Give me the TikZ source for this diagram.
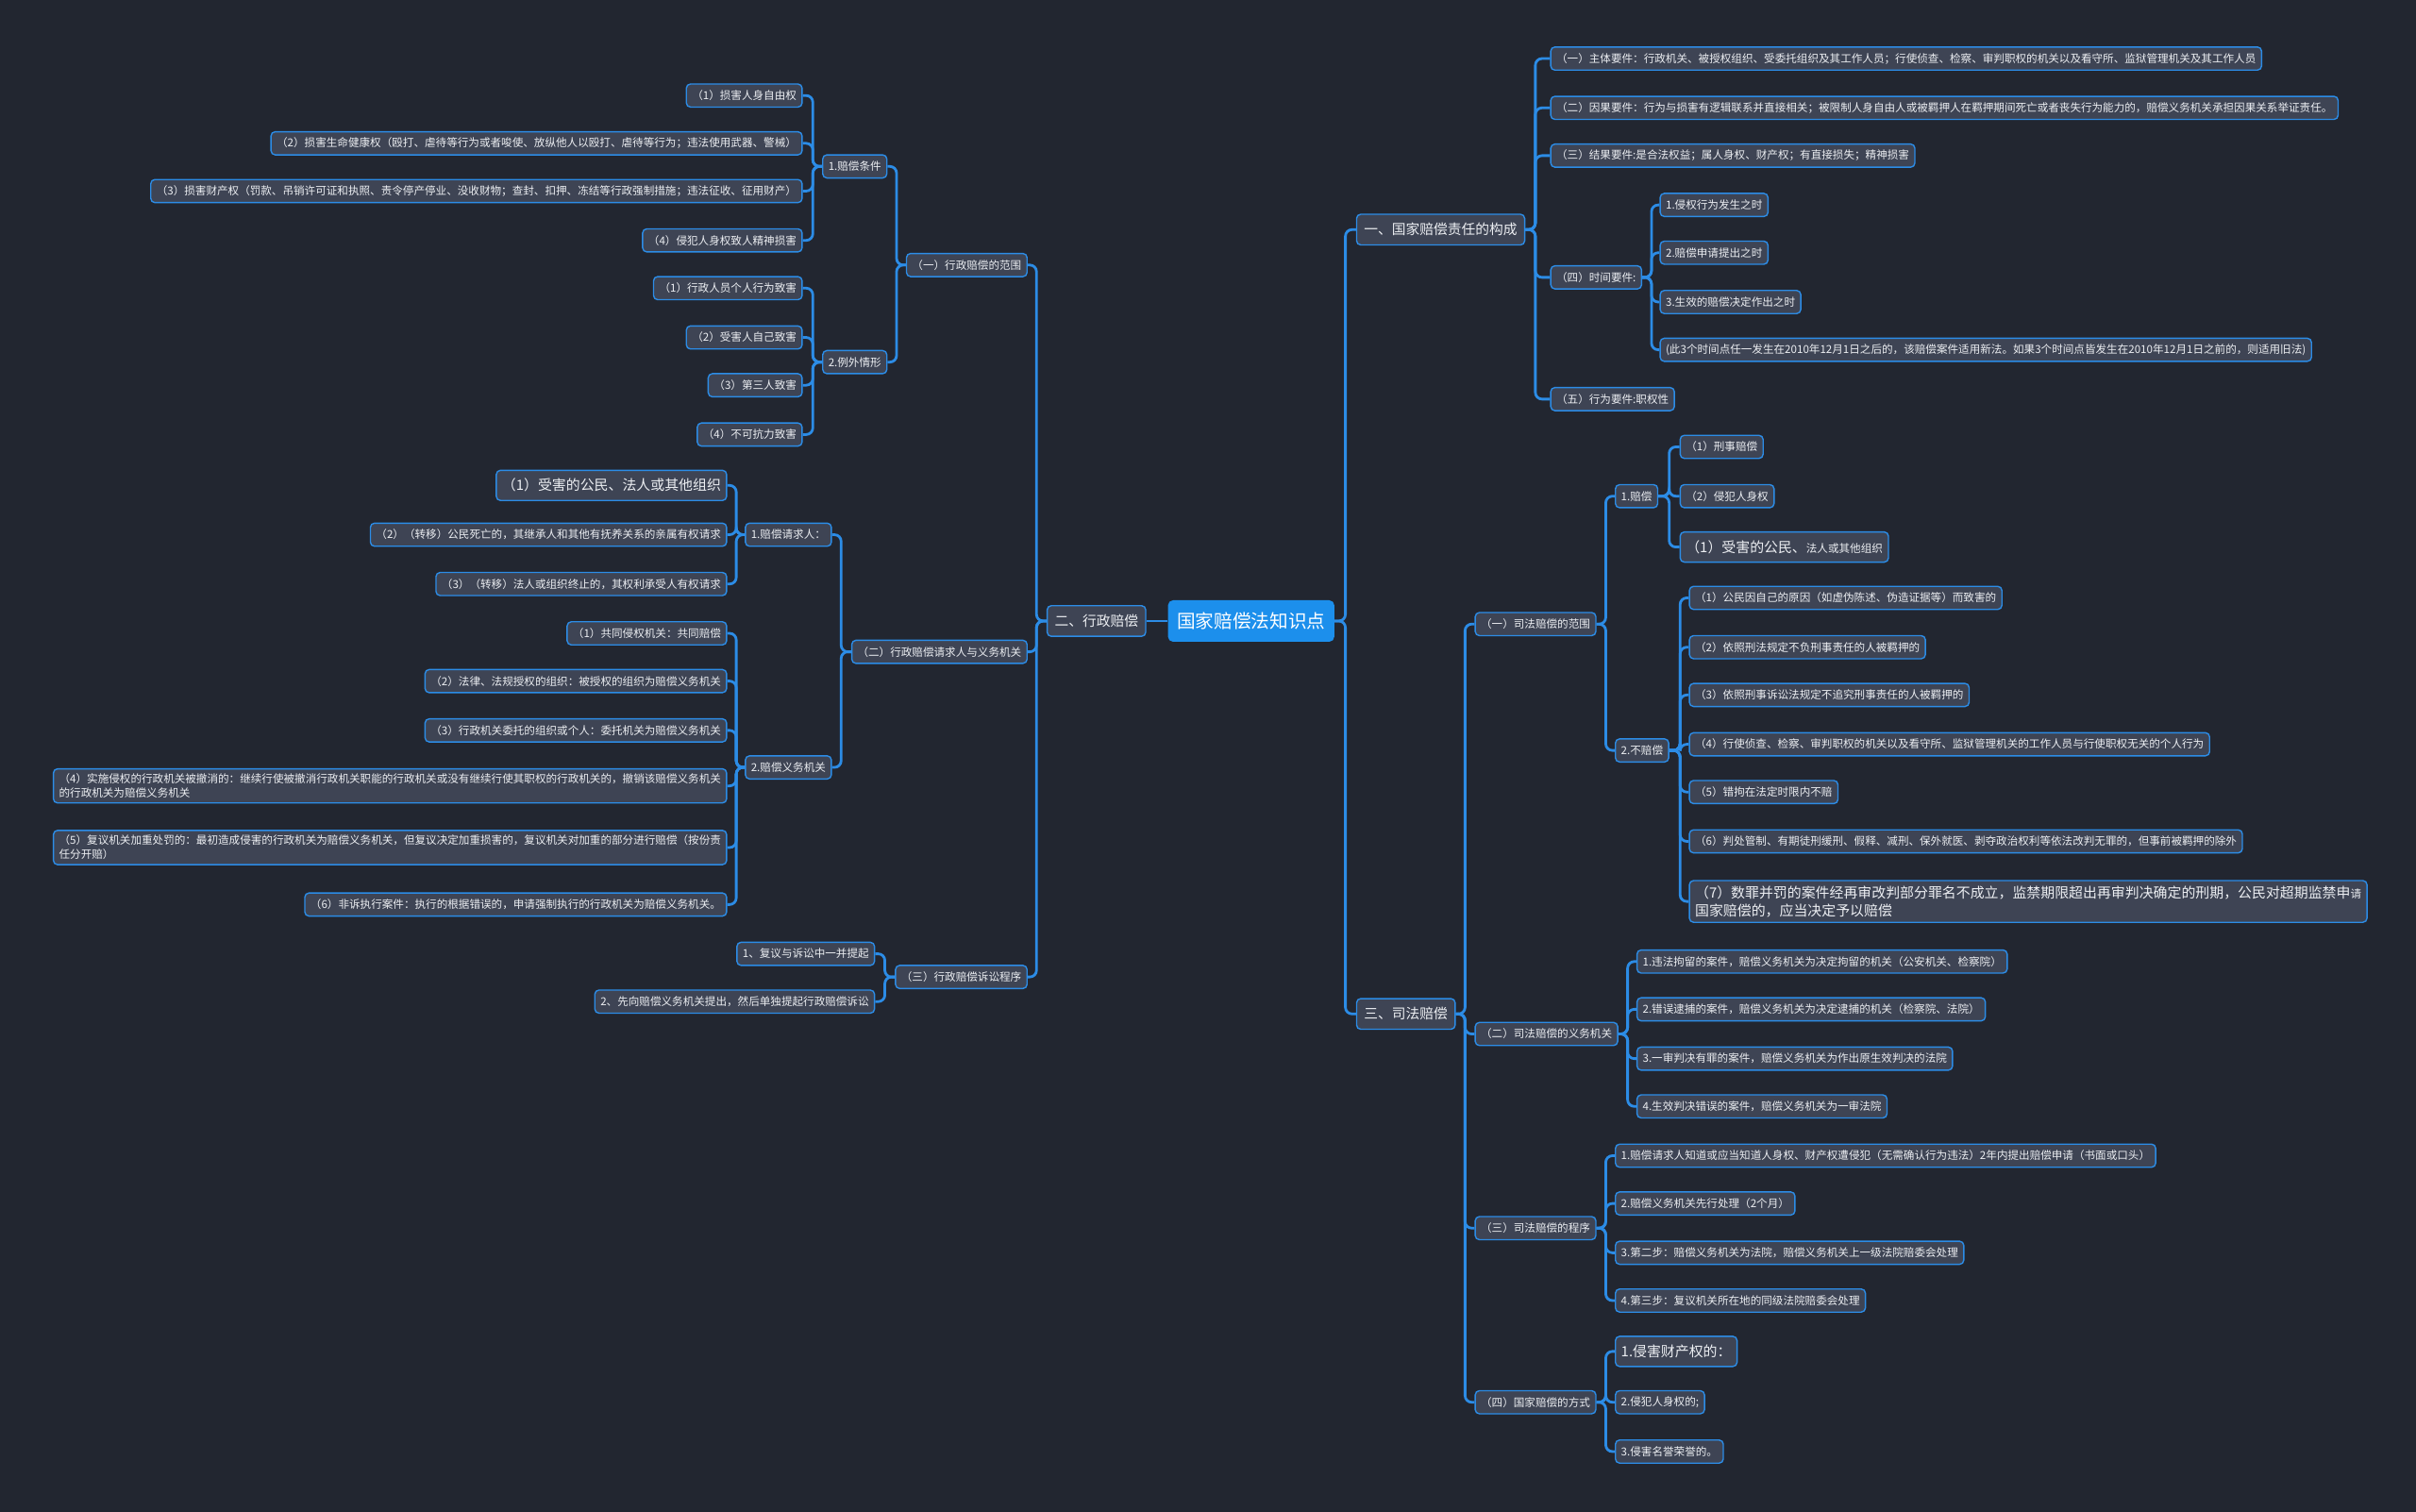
\documentclass[tikz,border=0pt]{standalone}
\usepackage{fontspec}
\setmainfont{Noto Sans CJK SC}
\usetikzlibrary{positioning}
\definecolor{bgdark}{RGB}{34,38,48}
\definecolor{boxgrey}{RGB}{62,68,84}
\definecolor{edgeblue}{RGB}{44,140,230}
\definecolor{rootblue}{RGB}{28,143,236}
\definecolor{textgrey}{RGB}{236,238,242}

\begin{document}
\begin{tikzpicture}[x=0.0327cm, y=-0.0327cm,
    box/.style={rectangle, draw=edgeblue, line width=0.8pt, rounded corners=2.5pt, fill=boxgrey, text=textgrey,
                font=\fontsize{6.6}{8.4}\selectfont, minimum height=0.49cm, inner xsep=0.12cm, inner ysep=1pt},
    bigbox/.style={box, font=\fontsize{8.5}{11}\selectfont, minimum height=0.64cm},
    topic/.style={box, font=\fontsize{8.4}{10}\selectfont, minimum height=0.65cm, inner xsep=0.16cm},
    root/.style={rectangle, rounded corners=3pt, fill=rootblue, text=white,
                font=\fontsize{11.2}{13}\selectfont, minimum height=0.88cm, inner xsep=0.19cm},
    link/.style={draw=edgeblue, line width=1.6pt, rounded corners=4pt}
]
\useasboundingbox (0,0) rectangle (1568,981);
\fill[bgdark] (0,0) rectangle (1568,981);

\node[root] (root) at (812,403) {国家赔偿法知识点};

% left: administrative compensation
\node[topic, anchor=east] (admin) at (744,403) {二、行政赔偿};
\node[box, anchor=east] (ascope) at (667,172) {（一）行政赔偿的范围};
\node[box, anchor=east] (aparty) at (667,423) {（二）行政赔偿请求人与义务机关};
\node[box, anchor=east] (asuit) at (667,634) {（三）行政赔偿诉讼程序};

\node[box, anchor=east] (cond) at (576,108) {1.赔偿条件};
\node[box, anchor=east] (cond1) at (521,62) {（1）损害人身自由权};
\node[box, anchor=east] (cond2) at (521,93) {（2）损害生命健康权（殴打、虐待等行为或者唆使、放纵他人以殴打、虐待等行为；违法使用武器、警械）};
\node[box, anchor=east] (cond3) at (521,124) {（3）损害财产权（罚款、吊销许可证和执照、责令停产停业、没收财物；查封、扣押、冻结等行政强制措施；违法征收、征用财产）};
\node[box, anchor=east] (cond4) at (521,156) {（4）侵犯人身权致人精神损害};

\node[box, anchor=east] (excp) at (576,235) {2.例外情形};
\node[box, anchor=east] (excp1) at (521,187) {（1）行政人员个人行为致害};
\node[box, anchor=east] (excp2) at (521,219) {（2）受害人自己致害};
\node[box, anchor=east] (excp3) at (521,250) {（3）第三人致害};
\node[box, anchor=east] (excp4) at (521,282) {（4）不可抗力致害};

\node[box, anchor=east] (claim) at (540,347) {1.赔偿请求人：};
\node[bigbox, anchor=east] (claim1) at (472,315) {（1）受害的公民、法人或其他组织};
\node[box, anchor=east] (claim2) at (472,347) {（2）（转移）公民死亡的，其继承人和其他有抚养关系的亲属有权请求};
\node[box, anchor=east] (claim3) at (472,379) {（3）（转移）法人或组织终止的，其权利承受人有权请求};

\node[box, anchor=east] (oblig) at (540,498) {2.赔偿义务机关};
\node[box, anchor=east] (obl1) at (472,411) {（1）共同侵权机关：共同赔偿};
\node[box, anchor=east] (obl2) at (472,442) {（2）法律、法规授权的组织：被授权的组织为赔偿义务机关};
\node[box, anchor=east] (obl3) at (472,474) {（3）行政机关委托的组织或个人：委托机关为赔偿义务机关};
\node[box, anchor=east, align=left, inner ysep=3pt] (obl4) at (472,510) {（4）实施侵权的行政机关被撤消的：继续行使被撤消行政机关职能的行政机关或没有继续行使其职权的行政机关的，撤销该赔偿义务机关\\的行政机关为赔偿义务机关};
\node[box, anchor=east, align=left, inner ysep=3pt] (obl5) at (472,550) {（5）复议机关加重处罚的：最初造成侵害的行政机关为赔偿义务机关，但复议决定加重损害的，复议机关对加重的部分进行赔偿（按份责\\任分开赔）};
\node[box, anchor=east] (obl6) at (472,587) {（6）非诉执行案件：执行的根据错误的，申请强制执行的行政机关为赔偿义务机关。};

\node[box, anchor=east] (suit1) at (568,619) {1、复议与诉讼中一并提起};
\node[box, anchor=east] (suit2) at (568,650) {2、先向赔偿义务机关提出，然后单独提起行政赔偿诉讼};

% right: constitution of liability
\node[topic, anchor=west] (cons) at (880,149) {一、国家赔偿责任的构成};
\node[box, anchor=west] (r1) at (1006,38) {（一）主体要件：行政机关、被授权组织、受委托组织及其工作人员；行使侦查、检察、审判职权的机关以及看守所、监狱管理机关及其工作人员};
\node[box, anchor=west] (r2) at (1006,70) {（二）因果要件：行为与损害有逻辑联系并直接相关；被限制人身自由人或被羁押人在羁押期间死亡或者丧失行为能力的，赔偿义务机关承担因果关系举证责任。};
\node[box, anchor=west] (r3) at (1006,101) {（三）结果要件:是合法权益；属人身权、财产权；有直接损失；精神损害};
\node[box, anchor=west] (r4) at (1006,180) {（四）时间要件:};
\node[box, anchor=west] (r5) at (1006,259) {（五）行为要件:职权性};
\node[box, anchor=west] (t1) at (1077,133) {1.侵权行为发生之时};
\node[box, anchor=west] (t2) at (1077,164) {2.赔偿申请提出之时};
\node[box, anchor=west] (t3) at (1077,196) {3.生效的赔偿决定作出之时};
\node[box, anchor=west] (t4) at (1077,227) {(此3个时间点任一发生在2010年12月1日之后的，该赔偿案件适用新法。如果3个时间点皆发生在2010年12月1日之前的，则适用旧法)};

% right: judicial compensation
\node[topic, anchor=west] (judic) at (880,658) {三、司法赔偿};
\node[box, anchor=west] (s1) at (957,405) {（一）司法赔偿的范围};
\node[box, anchor=west] (s2) at (957,671) {（二）司法赔偿的义务机关};
\node[box, anchor=west] (s3) at (957,797) {（三）司法赔偿的程序};
\node[box, anchor=west] (s4) at (957,910) {（四）国家赔偿的方式};

\node[box, anchor=west] (pay) at (1048,322) {1.赔偿};
\node[box, anchor=west] (pay1) at (1090,290) {（1）刑事赔偿};
\node[box, anchor=west] (pay2) at (1090,322) {（2）侵犯人身权};
\node[box, anchor=west, minimum height=0.64cm] (pay3) at (1090,355) {{\fontsize{8.5}{11}\selectfont （1）受害的公民、}法人或其他组织};

\node[box, anchor=west] (nopay) at (1048,487) {2.不赔偿};
\node[box, anchor=west] (nopay1) at (1096,388) {（1）公民因自己的原因（如虚伪陈述、伪造证据等）而致害的};
\node[box, anchor=west] (nopay2) at (1096,420) {（2）依照刑法规定不负刑事责任的人被羁押的};
\node[box, anchor=west] (nopay3) at (1096,451) {（3）依照刑事诉讼法规定不追究刑事责任的人被羁押的};
\node[box, anchor=west] (nopay4) at (1096,483) {（4）行使侦查、检察、审判职权的机关以及看守所、监狱管理机关的工作人员与行使职权无关的个人行为};
\node[box, anchor=west] (nopay5) at (1096,514) {（5）错拘在法定时限内不赔};
\node[box, anchor=west] (nopay6) at (1096,546) {（6）判处管制、有期徒刑缓刑、假释、减刑、保外就医、剥夺政治权利等依法改判无罪的，但事前被羁押的除外};
\node[bigbox, anchor=west, align=left, inner ysep=3pt] (nopay7) at (1096,585) {（7）数罪并罚的案件经再审改判部分罪名不成立，监禁期限超出再审判决确定的刑期，公民对超期监禁申{\fontsize{6.6}{8}\selectfont 请}\\国家赔偿的，应当决定予以赔偿};

\node[box, anchor=west] (org1) at (1062,624) {1.违法拘留的案件，赔偿义务机关为决定拘留的机关（公安机关、检察院）};
\node[box, anchor=west] (org2) at (1062,655) {2.错误逮捕的案件，赔偿义务机关为决定逮捕的机关（检察院、法院）};
\node[box, anchor=west] (org3) at (1062,687) {3.一审判决有罪的案件，赔偿义务机关为作出原生效判决的法院};
\node[box, anchor=west] (org4) at (1062,718) {4.生效判决错误的案件，赔偿义务机关为一审法院};

\node[box, anchor=west] (proc1) at (1048,750) {1.赔偿请求人知道或应当知道人身权、财产权遭侵犯（无需确认行为违法）2年内提出赔偿申请（书面或口头）};
\node[box, anchor=west] (proc2) at (1048,781) {2.赔偿义务机关先行处理（2个月）};
\node[box, anchor=west] (proc3) at (1048,813) {3.第二步：赔偿义务机关为法院，赔偿义务机关上一级法院赔委会处理};
\node[box, anchor=west] (proc4) at (1048,844) {4.第三步：复议机关所在地的同级法院赔委会处理};

\node[bigbox, anchor=west] (way1) at (1048,877) {1.侵害财产权的：};
\node[box, anchor=west] (way2) at (1048,910) {2.侵犯人身权的;};
\node[box, anchor=west] (way3) at (1048,942) {3.侵害名誉荣誉的。};

% connectors
\draw[link] (root.west) -- (admin.east);
\foreach \nd in {cons,judic} \draw[link] (root.east) -- ++(7,0) |- (\nd.west);
\foreach \nd in {r1,r2,r3,r4,r5} \draw[link] (cons.east) -- ++(6.5,0) |- (\nd.west);
\foreach \nd in {t1,t2,t3,t4} \draw[link] (r4.east) -- ++(6,0) |- (\nd.west);
\foreach \nd in {s1,s2,s3,s4} \draw[link] (judic.east) -- ++(6,0) |- (\nd.west);
\foreach \nd in {pay,nopay} \draw[link] (s1.east) -- ++(6,0) |- (\nd.west);
\foreach \nd in {pay1,pay2,pay3} \draw[link] (pay.east) -- ++(7,0) |- (\nd.west);
\foreach \nd in {nopay1,nopay2,nopay3,nopay4,nopay5,nopay6,nopay7} \draw[link] (nopay.east) -- ++(7,0) |- (\nd.west);
\foreach \nd in {org1,org2,org3,org4} \draw[link] (s2.east) -- ++(6,0) |- (\nd.west);
\foreach \nd in {proc1,proc2,proc3,proc4} \draw[link] (s3.east) -- ++(6,0) |- (\nd.west);
\foreach \nd in {way1,way2,way3} \draw[link] (s4.east) -- ++(6,0) |- (\nd.west);

\foreach \nd in {ascope,aparty,asuit} \draw[link] (admin.west) -- ++(-6.5,0) |- (\nd.east);
\foreach \nd in {cond,excp} \draw[link] (ascope.west) -- ++(-6,0) |- (\nd.east);
\foreach \nd in {cond1,cond2,cond3,cond4} \draw[link] (cond.west) -- ++(-6,0) |- (\nd.east);
\foreach \nd in {excp1,excp2,excp3,excp4} \draw[link] (excp.west) -- ++(-6,0) |- (\nd.east);
\foreach \nd in {claim,oblig} \draw[link] (aparty.west) -- ++(-6.5,0) |- (\nd.east);
\foreach \nd in {claim1,claim2,claim3} \draw[link] (claim.west) -- ++(-5.5,0) |- (\nd.east);
\foreach \nd in {obl1,obl2,obl3,obl4,obl5,obl6} \draw[link] (oblig.west) -- ++(-5.5,0) |- (\nd.east);
\foreach \nd in {suit1,suit2} \draw[link] (asuit.west) -- ++(-6.5,0) |- (\nd.east);
\end{tikzpicture}
\end{document}
